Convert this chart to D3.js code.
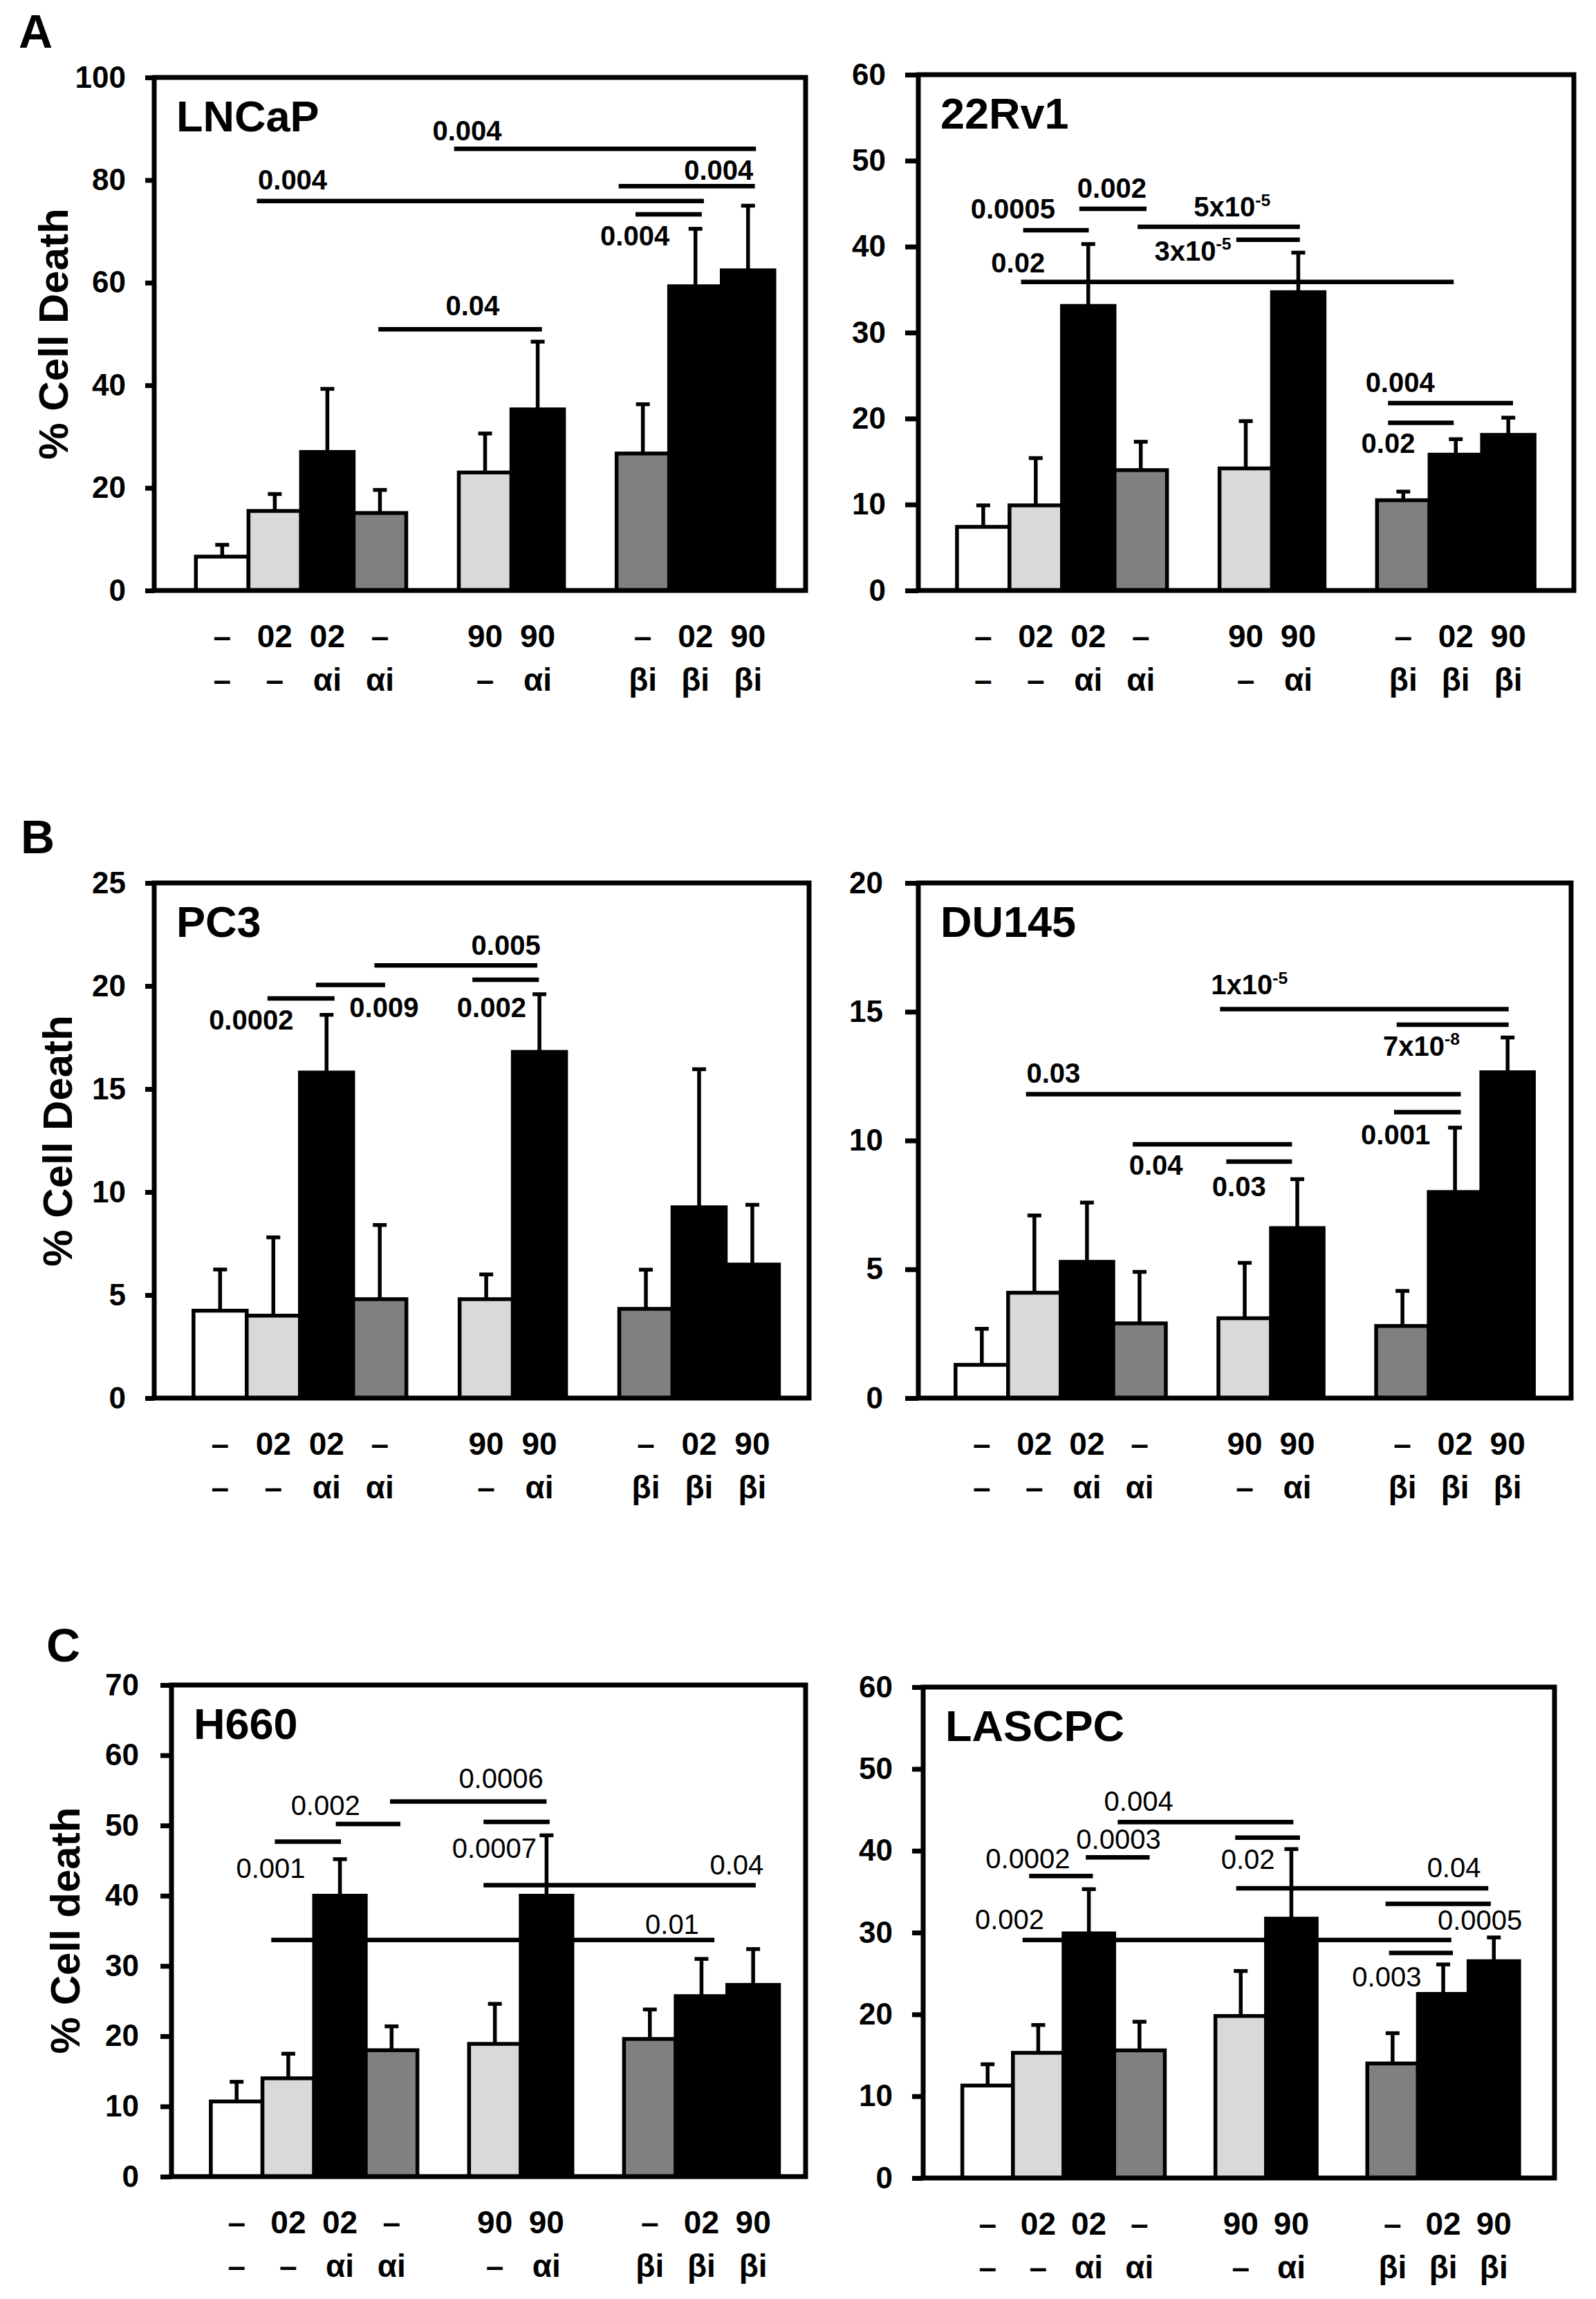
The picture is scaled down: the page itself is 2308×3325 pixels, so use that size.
<!DOCTYPE html>
<html>
<head>
<meta charset="utf-8">
<script src="https://d3js.org/d3.v7.min.js"></script>
<style>
  body { margin: 0; background: #fff; }
  svg text { font-family: Arial, "Liberation Sans", sans-serif; fill: #000; }
</style>
</head>
<body>
<div id="chart"></div>
<script>
// ---- data ----
var cellLines = ["LNCaP", "22Rv1", "PC3", "DU145", "H660", "LASCPC"];
var treatRow1 = ["–", "02", "02", "–", "90", "90", "–", "02", "90"];
var treatRow2 = ["–", "–", "αi", "αi", "–", "αi", "βi", "βi", "βi"];
var barSlots = [0, 1, 2, 3, 5, 6, 8, 9, 10];   // 11 slots, two empty gaps

var yMaxes = [100, 60, 25, 20, 70, 60];
var tickSteps = [20, 10, 5, 5, 10, 10];

var meanLNCaP  = [6.6, 15.5, 27.0, 15.1, 23.0, 35.3, 26.7, 59.3, 62.4];
var errLNCaP   = [2.3, 3.3, 12.3, 4.5, 7.6, 13.2, 9.6, 11.2, 12.6];
var mean22Rv1  = [7.4, 9.9, 33.1, 14.0, 14.2, 34.7, 10.5, 15.8, 18.1];
var err22Rv1   = [2.5, 5.5, 7.2, 3.3, 5.5, 4.6, 1.0, 1.8, 2.0];
var meanPC3    = [4.24, 4.0, 15.8, 4.8, 4.8, 16.8, 4.33, 9.26, 6.48];
var errPC3     = [2.0, 3.8, 2.8, 3.6, 1.2, 2.8, 1.9, 6.7, 2.9];
var meanDU145  = [1.29, 4.09, 5.29, 2.9, 3.1, 6.6, 2.8, 8.0, 12.65];
var errDU145   = [1.4, 3.0, 2.3, 2.0, 2.15, 1.9, 1.36, 2.5, 1.35];
var meanH660   = [10.7, 14.0, 40.0, 18.0, 18.9, 40.0, 19.6, 25.7, 27.3];
var errH660    = [2.8, 3.5, 5.2, 3.4, 5.7, 8.6, 4.2, 5.3, 5.1];
var meanLASCPC = [11.3, 15.3, 29.9, 15.6, 19.8, 31.7, 14.0, 22.5, 26.5];
var errLASCPC  = [2.6, 3.4, 5.4, 3.5, 5.5, 8.5, 3.7, 3.6, 2.9];

// p-value brackets: [slot from, slot to, y value, label, label slot, label y, anchor]
var sigLNCaP = [
  [1.16, 9.66, 75.9, "0.004", 1.18, 78.1, "start"],
  [4.91, 10.65, 86.1, "0.004", 4.5, 87.7, "start"],
  [8.04, 10.63, 78.8, "0.004", 10.6, 80.0, "end"],
  [8.36, 9.62, 73.3, "0.004", 7.69, 67.2, "start"],
  [3.47, 6.58, 50.9, "0.04", 4.75, 53.6, "start"]
];
var sig22Rv1 = [
  [1.26, 2.51, 41.9, "0.0005", 0.26, 43.3, "start"],
  [2.33, 3.61, 44.4, "0.002", 2.29, 45.7, "start"],
  [3.44, 6.53, 42.3, "5x10^-5", 4.51, 43.5, "start"],
  [5.32, 6.53, 40.8, "3x10^-5", 3.76, 38.4, "start"],
  [1.22, 9.46, 35.9, "0.02", 0.65, 37.0, "start"],
  [8.21, 10.59, 21.8, "0.004", 7.78, 23.1, "start"],
  [8.21, 9.46, 19.5, "0.02", 7.70, 16.0, "start"]
];
var sigPC3 = [
  [1.39, 2.65, 19.4, "0.0002", 0.29, 17.9, "start"],
  [2.30, 3.60, 20.05, "0.009", 2.93, 18.5, "start"],
  [3.40, 6.46, 21.0, "0.005", 5.22, 21.5, "start"],
  [5.24, 6.49, 20.3, "0.002", 4.95, 18.5, "start"]
];
var sigDU145 = [
  [5.03, 10.52, 15.1, "1x10^-5", 4.86, 15.67, "start"],
  [8.39, 10.52, 14.5, "7x10^-8", 8.13, 13.3, "start"],
  [1.34, 9.61, 11.8, "0.03", 1.35, 12.25, "start"],
  [8.34, 9.61, 11.1, "0.001", 7.71, 9.85, "start"],
  [3.37, 6.40, 9.85, "0.04", 3.30, 8.67, "start"],
  [5.15, 6.40, 9.18, "0.03", 4.88, 7.85, "start"]
];
var sigH660 = [
  [1.24, 2.52, 47.7, "0.001", 0.49, 42.5, "start"],
  [2.42, 3.67, 50.2, "0.002", 1.55, 51.5, "start"],
  [3.47, 6.50, 53.4, "0.0006", 4.80, 55.3, "start"],
  [5.28, 6.56, 50.5, "0.0007", 4.67, 45.4, "start"],
  [5.28, 10.55, 41.5, "0.04", 9.66, 43.0, "start"],
  [1.17, 9.75, 33.7, "0.01", 8.41, 34.6, "start"]
];
var sigLASCPC = [
  [1.32, 2.58, 36.9, "0.0002", 0.46, 37.9, "start"],
  [2.44, 3.70, 39.2, "0.0003", 2.25, 40.2, "start"],
  [3.07, 6.54, 43.5, "0.004", 2.80, 44.9, "start"],
  [5.39, 6.67, 41.6, "0.02", 5.11, 37.8, "start"],
  [5.41, 10.39, 35.4, "0.04", 9.18, 36.8, "start"],
  [8.36, 10.44, 33.5, "0.0005", 9.39, 30.3, "start"],
  [1.19, 9.66, 29.1, "0.002", 0.25, 30.4, "start"],
  [8.43, 9.69, 27.5, "0.003", 7.70, 23.4, "start"]
];

var means = [meanLNCaP, mean22Rv1, meanPC3, meanDU145, meanH660, meanLASCPC];
var errs = [errLNCaP, err22Rv1, errPC3, errDU145, errH660, errLASCPC];
var sigs = [sigLNCaP, sig22Rv1, sigPC3, sigDU145, sigH660, sigLASCPC];

// ---- layout ----
var barFills = ["#ffffff", "#d9d9d9", "#000000", "#808080", "#d9d9d9", "#000000", "#808080", "#000000", "#000000"];

var panels = [
  { x0: 223,  x1: 1165, y0: 112,  y1: 854,  padL: 0.064, padR: 0.048, tick: 13, tickPad: 28 },
  { x0: 1328, x1: 2276, y0: 108,  y1: 854,  padL: 0.059, padR: 0.060, tick: 19, tickPad: 28 },
  { x0: 223,  x1: 1170, y0: 1277, y1: 2022, padL: 0.060, padR: 0.046, tick: 13, tickPad: 28 },
  { x0: 1328, x1: 2272, y0: 1277, y1: 2022, padL: 0.057, padR: 0.057, tick: 19, tickPad: 32 },
  { x0: 248,  x1: 1165, y0: 2437, y1: 3148, padL: 0.062, padR: 0.042, tick: 16, tickPad: 31 },
  { x0: 1335, x1: 2248, y0: 2440, y1: 3150, padL: 0.062, padR: 0.056, tick: 16, tickPad: 28 }
];

var svg = d3.select("#chart").append("svg")
  .attr("width", 2308)
  .attr("height", 3325);

svg.append("rect").attr("width", 2308).attr("height", 3325).attr("fill", "#fff");

// panel letters
[["A", 27, 69], ["B", 30, 1234], ["C", 67, 2403]].forEach(function(l) {
  svg.append("text").attr("x", l[1]).attr("y", l[2])
    .attr("font-size", 68).attr("font-weight", "bold").text(l[0]);
});

// y-axis titles on the left column
[["% Cell Death", 98, 483], ["% Cell Death", 104, 1650], ["% Cell death", 115, 2792]].forEach(function(t) {
  svg.append("text")
    .attr("transform", "translate(" + t[1] + "," + t[2] + ") rotate(-90)")
    .attr("text-anchor", "middle")
    .attr("font-size", 60).attr("font-weight", "bold")
    .text(t[0]);
});

function addLabel(sel, str, size) {
  var parts = str.split("^");
  sel.append("tspan").text(parts[0]);
  if (parts.length > 1) {
    sel.append("tspan")
      .attr("font-size", size * 0.62)
      .attr("dy", -size * 0.38)
      .text(parts[1]);
  }
}

panels.forEach(function(p, pi) {
  var g = svg.append("g");
  var w = p.x1 - p.x0;

  var y = d3.scaleLinear().domain([0, yMaxes[pi]]).range([p.y1, p.y0]);
  var band = d3.scaleBand().domain(d3.range(11))
    .range([p.x0 + w * p.padL, p.x1 - w * p.padR]).paddingInner(0).paddingOuter(0);
  var slot = d3.scaleLinear().domain([0, 11]).range(band.range());

  var ticks = d3.range(0, yMaxes[pi] + 0.001, tickSteps[pi]);
  var axis = g.append("g")
    .attr("transform", "translate(" + p.x0 + ",0)")
    .call(d3.axisLeft(y).tickValues(ticks).tickSize(p.tick).tickPadding(p.tickPad).tickSizeOuter(0));
  axis.select(".domain").remove();
  axis.selectAll(".tick line").attr("stroke", "#000").attr("stroke-width", 7);
  axis.selectAll(".tick text")
    .attr("font-size", 44).attr("font-weight", "bold")
    .attr("font-family", "Arial, 'Liberation Sans', sans-serif").attr("fill", "#000");

  // bars
  var bars = means[pi].map(function(m, i) {
    return { v: m, e: errs[pi][i], slot: barSlots[i], fill: barFills[i] };
  });
  g.selectAll("rect.bar").data(bars).enter().append("rect")
    .attr("class", "bar")
    .attr("x", function(d) { return band(d.slot); })
    .attr("width", band.bandwidth())
    .attr("y", function(d) { return y(d.v); })
    .attr("height", function(d) { return y(0) - y(d.v); })
    .attr("fill", function(d) { return d.fill; })
    .attr("stroke", "#000").attr("stroke-width", 5.5);

  // error bars (upper only)
  var eb = g.selectAll("g.err").data(bars).enter().append("g").attr("class", "err")
    .attr("stroke", "#000").attr("stroke-width", 5.5);
  eb.append("line")
    .attr("x1", function(d) { return band(d.slot) + band.bandwidth() / 2; })
    .attr("x2", function(d) { return band(d.slot) + band.bandwidth() / 2; })
    .attr("y1", function(d) { return y(d.v); })
    .attr("y2", function(d) { return y(d.v + d.e); });
  eb.append("line")
    .attr("x1", function(d) { return band(d.slot) + band.bandwidth() / 2 - 10; })
    .attr("x2", function(d) { return band(d.slot) + band.bandwidth() / 2 + 10; })
    .attr("y1", function(d) { return y(d.v + d.e); })
    .attr("y2", function(d) { return y(d.v + d.e); });

  // frame
  g.append("rect")
    .attr("x", p.x0).attr("y", p.y0)
    .attr("width", w).attr("height", p.y1 - p.y0)
    .attr("fill", "none").attr("stroke", "#000").attr("stroke-width", 7);

  // panel title
  g.append("text")
    .attr("x", p.x0 + 32).attr("y", p.y0 + 78)
    .attr("font-size", 63).attr("font-weight", "bold")
    .text(cellLines[pi]);

  // treatment labels under the bars
  [treatRow1, treatRow2].forEach(function(row, ri) {
    g.selectAll("text.row" + ri).data(row).enter().append("text")
      .attr("class", "row" + ri)
      .attr("x", function(d, i) { return band(barSlots[i]) + band.bandwidth() / 2; })
      .attr("y", p.y1 + (ri === 0 ? 82 : 145))
      .attr("text-anchor", "middle")
      .attr("font-size", 46).attr("font-weight", "bold")
      .text(function(d) { return d; });
  });

  // significance brackets
  var boldP = pi < 4;
  sigs[pi].forEach(function(s) {
    g.append("line")
      .attr("x1", slot(s[0])).attr("x2", slot(s[1]))
      .attr("y1", y(s[2])).attr("y2", y(s[2]))
      .attr("stroke", "#000").attr("stroke-width", 6.5);
    var t = g.append("text")
      .attr("x", slot(s[4])).attr("y", y(s[5]))
      .attr("text-anchor", s[6])
      .attr("font-size", 40)
      .attr("font-weight", boldP ? "bold" : "normal");
    addLabel(t, s[3], 40);
  });
});
</script>
</body>
</html>
